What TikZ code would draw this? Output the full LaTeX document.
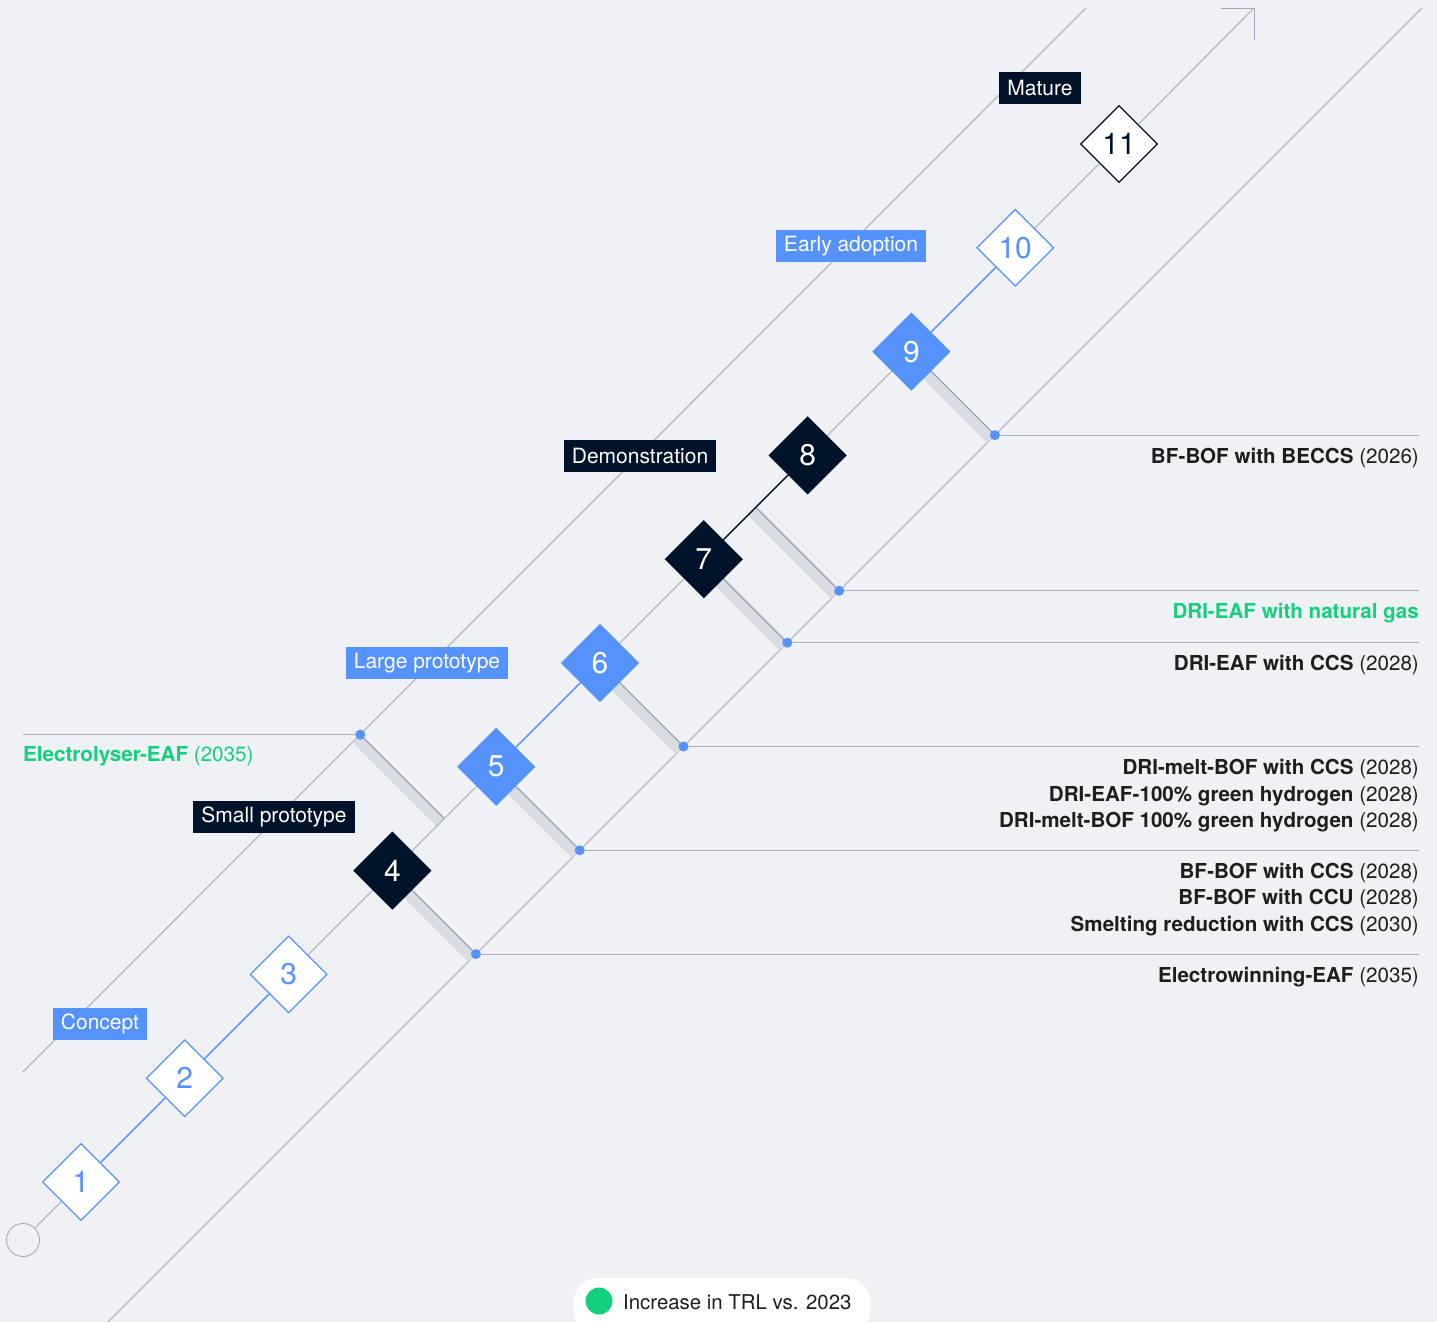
\documentclass[tikz,border=0pt]{standalone}
\usepackage{fontspec}
\setmainfont{TeX Gyre Heros}
\usetikzlibrary{shapes.geometric,calc,positioning}

\definecolor{bg}{HTML}{EFF1F5}
\definecolor{rail}{HTML}{A3A9B8}
\definecolor{rung}{HTML}{8F96A8}
\definecolor{shelfgrey}{HTML}{A9B1C5}
\definecolor{trlblue}{HTML}{5592FB}
\definecolor{navy}{HTML}{001229}
\definecolor{bandgrey}{HTML}{D9DCE3}
\definecolor{techgreen}{HTML}{14D07E}
\definecolor{ink}{HTML}{1E1E1E}

\tikzset{
	trl/.style={diamond, minimum size=77pt, inner sep=0pt, line width=1.2pt, font=\fontsize{30}{30}\selectfont},
	trlopen/.style={trl, fill=white, draw=trlblue, text=trlblue},
	trlfill/.style={trl, fill=trlblue, draw=trlblue, text=white},
	trldark/.style={trl, fill=navy, draw=navy, text=white},
	trlend/.style={trl, fill=white, draw=navy, text=navy},
	stage/.style={rectangle, inner xsep=8pt, inner ysep=0pt, minimum height=32pt, text=white, font=\fontsize{21}{25}\selectfont},
	stageblue/.style={stage, fill=trlblue},
	stagedark/.style={stage, fill=navy},
	tech/.style={anchor=base east, inner sep=0pt, text=ink, font=\fontsize{20.6}{25}\selectfont},
	shelf/.style={bandgrey, line width=12pt},
}

\begin{document}
\begin{tikzpicture}[x=1pt, y=-1pt]

	\fill[bg] (0,0) rectangle (1437,1322);
	\useasboundingbox (0,0) rectangle (1437,1322);

	\foreach \i in {1,...,11}
		\coordinate (T\i) at ({81+(\i-1)*103.8},{1182-(\i-1)*103.8});
	\coordinate (tip) at (1254,8);
	\coordinate (R) at (1419,0);
	\coordinate (M45) at ($(T4)!0.5!(T5)$);
	\coordinate (M75) at ($(T7)!0.5!(T8)$);
	\coordinate (E45) at ($(M45)+(-84,-84)$);
	\coordinate (D4) at ($(T4)+(83.5,83.5)$);
	\coordinate (D5) at ($(T5)+(83.5,83.5)$);
	\coordinate (D6) at ($(T6)+(83.5,83.5)$);
	\coordinate (D7) at ($(T7)+(83.5,83.5)$);
	\coordinate (D75) at ($(M75)+(83.5,83.5)$);
	\coordinate (D9) at ($(T9)+(83.5,83.5)$);

	\draw[rail, line width=0.9pt] (23,1072) -- (1086,8);
	\draw[rail, line width=0.9pt] (108,1322) -- (1422,8);

	\foreach \point in {D4,D5,D6,D7,D75,D9}
		\draw[shelfgrey, line width=1.1pt] (\point) -- (\point -| R);
	\draw[shelfgrey, line width=1.1pt] (E45) -- (E45 -| 23,0);

	\foreach \a/\b in {T4/D4, T5/D5, T6/D6, T7/D7, M75/D75, T9/D9, E45/M45} {
		\draw[shelf] ($(\a)+(-3.5,3.5)$) -- ($(\b)+(-3.5,3.5)$);
		\draw[rung, line width=0.9pt] (\a) -- (\b);
	}

	\node[circle, draw=rail, line width=0.9pt, minimum size=33pt, inner sep=0pt] (C) at (23,1240) {};
	\foreach \i/\s in {1/trlopen, 2/trlopen, 3/trlopen, 4/trldark, 5/trlfill, 6/trlfill, 7/trldark, 8/trldark, 9/trlfill, 10/trlopen, 11/trlend}
		\node[\s] (N\i) at (T\i) {\i};

	\foreach \a/\b/\c/\w in {C/N1/rail/0.9, N1/N2/trlblue/1.4, N2/N3/trlblue/1.4, N3/N4/rail/0.9, N4/N5/rail/0.9, N5/N6/trlblue/1.4, N6/N7/rail/0.9, N7/N8/navy/1.4, N8/N9/rail/0.9, N9/N10/trlblue/1.4, N10/N11/rail/0.9, N11/tip/rail/0.9}
		\draw[\c, line width=\w pt] (\a) -- (\b);
	\draw[rail, line width=0.9pt] ($(tip)+(-33,0)$) -- (tip) -- ($(tip)+(0,32)$);

	\foreach \point in {D4,D5,D6,D7,D75,D9,E45} \fill[trlblue] (\point) circle (5pt);

	\node[stageblue] (concept) at (100,1024) {Concept};
	\node[stagedark] (small) at (274,817) {Small prototype};
	\node[stageblue] (large) at (427,663) {Large prototype};
	\node[stagedark] (demo) at (640,456) {Demonstration};
	\node[stageblue] (early) at (851,246) {Early adoption};
	\node[stagedark] (mature) at (1040,88) {Mature};

	\node[tech] (t9) at ($(D9 -| R)+(0,28)$) {\textbf{BF-BOF with BECCS} (2026)};
	\node[tech, text=techgreen] (t75) at ($(D75 -| R)+(0,28)$) {\textbf{DRI-EAF with natural gas}};
	\node[tech] (t7) at ($(D7 -| R)+(0,28)$) {\textbf{DRI-EAF with CCS} (2028)};
	\node[tech] (t6a) at ($(D6 -| R)+(0,28)$) {\textbf{DRI-melt-BOF with CCS} (2028)};
	\node[tech] (t6b) at ($(t6a.base east)+(0,26.5)$) {\textbf{DRI-EAF-100\% green hydrogen} (2028)};
	\node[tech] (t6c) at ($(t6b.base east)+(0,26.5)$) {\textbf{DRI-melt-BOF 100\% green hydrogen} (2028)};
	\node[tech] (t5a) at ($(D5 -| R)+(0,28)$) {\textbf{BF-BOF with CCS} (2028)};
	\node[tech] (t5b) at ($(t5a.base east)+(0,26.5)$) {\textbf{BF-BOF with CCU} (2028)};
	\node[tech] (t5c) at ($(t5b.base east)+(0,26.5)$) {\textbf{Smelting reduction with CCS} (2030)};
	\node[tech] (t4) at ($(D4 -| R)+(0,28)$) {\textbf{Electrowinning-EAF} (2035)};
	\node[tech, anchor=base west, text=techgreen] (t45) at (23,761) {\textbf{Electrolyser-EAF} (2035)};

	\fill[white, rounded corners=23pt] (574,1278) rectangle (870,1334);
	\fill[techgreen] (599,1301) circle (13.5pt);
	\node[anchor=west, inner sep=0pt, text=ink, font=\fontsize{20.4}{24}\selectfont] (legend) at (623,1302) {Increase in TRL vs. 2023};

\end{tikzpicture}
\end{document}
